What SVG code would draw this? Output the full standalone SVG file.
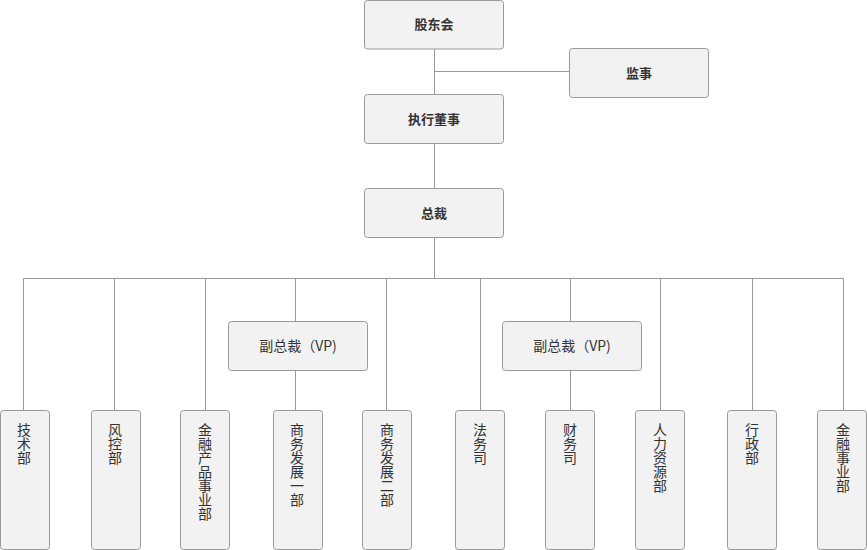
<svg xmlns="http://www.w3.org/2000/svg" width="867" height="550" viewBox="0 0 867 550">
<style>
.n{fill:#f2f2f2;stroke:#999;stroke-width:1}
.c{stroke:#999;stroke-width:1;fill:none}
.t{font-family:"Noto Sans CJK SC","Liberation Sans",sans-serif;font-size:13px;fill:#333;text-anchor:middle}
.b{font-weight:bold}
.p{font-size:14px}
.v{font-family:"Noto Sans CJK SC","Liberation Sans",sans-serif;font-size:14px;fill:#333;text-anchor:middle}
</style>
<rect width="867" height="550" fill="#fff"/>
<g id="connectors">
<path class="c" d="M434.5 49V94.5M434.5 71.5H569.5M434.5 143.5V188.5M434.5 237.5V278.5M23.5 278.5H843.5"/>
<path class="c" d="M23.5 278.5V410.5M114.5 278.5V410.5M205.5 278.5V410.5M295.5 278.5V321.5M295.5 370.5V410.5M386.5 278.5V410.5M480.5 278.5V410.5M570.5 278.5V321.5M570.5 370.5V410.5M660.5 278.5V410.5M752.5 278.5V410.5M843.5 278.5V410.5"/>
</g>
<g id="n-gdh"><rect class="n" x="364.5" y="0.5" width="139" height="48.5" rx="3"/><text class="t b" x="434" y="29">股东会</text></g>
<g id="n-js"><rect class="n" x="569.5" y="48.5" width="139" height="49" rx="3"/><text class="t b" x="639" y="77.5">监事</text></g>
<g id="n-zxds"><rect class="n" x="364.5" y="94.5" width="139" height="49" rx="3"/><text class="t b" x="434" y="123.5">执行董事</text></g>
<g id="n-zc"><rect class="n" x="364.5" y="188.5" width="139" height="49" rx="3"/><text class="t b" x="434" y="217.5">总裁</text></g>
<g id="n-vp1"><rect class="n" x="228.5" y="321.5" width="139" height="49" rx="3"/><text class="t p" x="298" y="351">副总裁（VP)</text></g>
<g id="n-vp2"><rect class="n" x="502.5" y="321.5" width="139" height="49" rx="3"/><text class="t p" x="572" y="351">副总裁（VP)</text></g>
<g id="n-jsb"><rect class="n" x="0.5" y="410.5" width="49" height="139" rx="3"/><text class="v" y="435"><tspan x="24">技</tspan><tspan x="24" dy="14">术</tspan><tspan x="24" dy="14">部</tspan></text></g>
<g id="n-fkb"><rect class="n" x="91.5" y="410.5" width="49" height="139" rx="3"/><text class="v" y="435"><tspan x="115">风</tspan><tspan x="115" dy="14">控</tspan><tspan x="115" dy="14">部</tspan></text></g>
<g id="n-jrcp"><rect class="n" x="180.5" y="410.5" width="49" height="139" rx="3"/><text class="v" y="435"><tspan x="205">金</tspan><tspan x="205" dy="14">融</tspan><tspan x="205" dy="14">产</tspan><tspan x="205" dy="14">品</tspan><tspan x="205" dy="14">事</tspan><tspan x="205" dy="14">业</tspan><tspan x="205" dy="14">部</tspan></text></g>
<g id="n-swfz1"><rect class="n" x="273.5" y="410.5" width="49" height="139" rx="3"/><text class="v" y="435"><tspan x="297">商</tspan><tspan x="297" dy="14">务</tspan><tspan x="297" dy="14">发</tspan><tspan x="297" dy="14">展</tspan><tspan x="297" dy="14">一</tspan><tspan x="297" dy="14">部</tspan></text></g>
<g id="n-swfz2"><rect class="n" x="362.5" y="410.5" width="49" height="139" rx="3"/><text class="v" y="435"><tspan x="387">商</tspan><tspan x="387" dy="14">务</tspan><tspan x="387" dy="14">发</tspan><tspan x="387" dy="14">展</tspan><tspan x="387" dy="14">二</tspan><tspan x="387" dy="14">部</tspan></text></g>
<g id="n-fws"><rect class="n" x="455.5" y="410.5" width="49" height="139" rx="3"/><text class="v" y="435"><tspan x="480">法</tspan><tspan x="480" dy="14">务</tspan><tspan x="480" dy="14">司</tspan></text></g>
<g id="n-cws"><rect class="n" x="545.5" y="410.5" width="49" height="139" rx="3"/><text class="v" y="435"><tspan x="570">财</tspan><tspan x="570" dy="14">务</tspan><tspan x="570" dy="14">司</tspan></text></g>
<g id="n-rlzy"><rect class="n" x="635.5" y="410.5" width="49" height="139" rx="3"/><text class="v" y="435"><tspan x="660">人</tspan><tspan x="660" dy="14">力</tspan><tspan x="660" dy="14">资</tspan><tspan x="660" dy="14">源</tspan><tspan x="660" dy="14">部</tspan></text></g>
<g id="n-xzb"><rect class="n" x="727.5" y="410.5" width="49" height="139" rx="3"/><text class="v" y="435"><tspan x="752">行</tspan><tspan x="752" dy="14">政</tspan><tspan x="752" dy="14">部</tspan></text></g>
<g id="n-jrsy"><rect class="n" x="817.5" y="410.5" width="49" height="139" rx="3"/><text class="v" y="435"><tspan x="843">金</tspan><tspan x="843" dy="14">融</tspan><tspan x="843" dy="14">事</tspan><tspan x="843" dy="14">业</tspan><tspan x="843" dy="14">部</tspan></text></g>
</svg>
